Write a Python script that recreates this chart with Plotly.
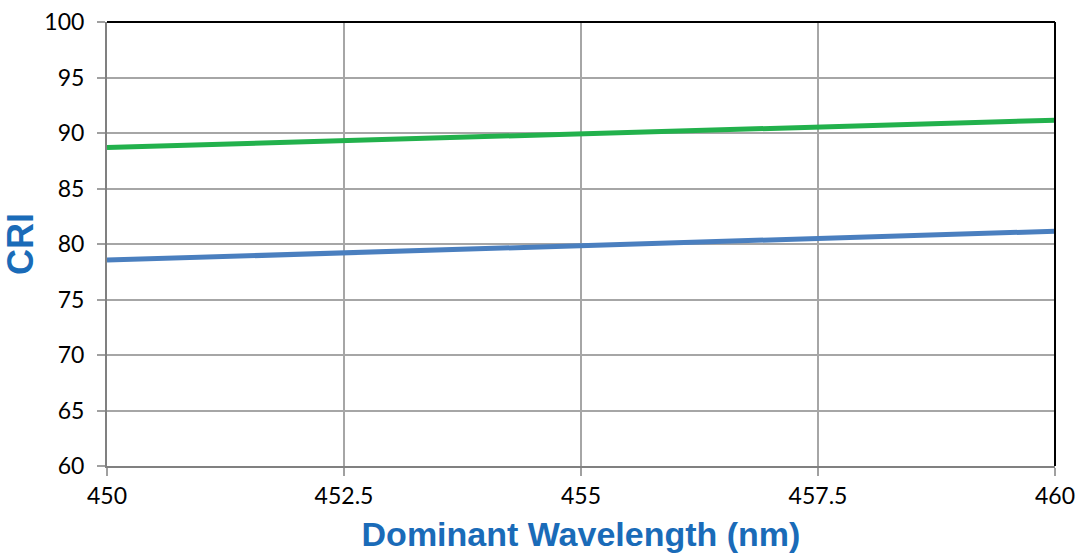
import plotly.graph_objects as go

wavelength = [450, 452.5, 455, 457.5, 460]
cri_green = [88.7, 89.3, 89.9, 90.55, 91.15]
cri_blue = [78.55, 79.2, 79.85, 80.5, 81.15]

x_ticks = [450, 452.5, 455, 457.5, 460]
x_tick_labels = ["450", "452.5", "455", "457.5", "460"]
y_ticks = [60, 65, 70, 75, 80, 85, 90, 95, 100]

fig = go.Figure()
fig.add_trace(go.Scatter(x=wavelength, y=cri_green, mode="lines",
                         line=dict(color="#22b14c", width=5), showlegend=False))
fig.add_trace(go.Scatter(x=wavelength, y=cri_blue, mode="lines",
                         line=dict(color="#4a7fbf", width=5), showlegend=False))

tickfont = dict(family="Lato, Liberation Sans, sans-serif", size=23, color="black")
xtitlefont = dict(family="Liberation Sans, Arial, sans-serif", size=34, color="#1a6bb8")
ytitlefont = dict(family="Liberation Sans, Arial, sans-serif", size=36, color="#1a6bb8")

fig.update_layout(
    width=1081, height=553,
    margin=dict(l=107, r=26, t=22, b=87),
    plot_bgcolor="white", paper_bgcolor="white",
    xaxis=dict(range=[450, 460], tickvals=x_ticks, ticktext=x_tick_labels,
               automargin=False,
               showgrid=True, gridcolor="#a6a6a6", gridwidth=1.5,
               showline=True, linecolor="#808080", linewidth=2,
               ticks="outside", ticklen=8, tickcolor="#a0a0a0", tickwidth=1.5,
               tickfont=tickfont, zeroline=False,
               title=dict(text="<b>Dominant Wavelength (nm)</b>", font=xtitlefont, standoff=15)),
    yaxis=dict(range=[60, 100], tickvals=y_ticks,
               automargin=False,
               showgrid=True, gridcolor="#a6a6a6", gridwidth=1.5,
               showline=True, linecolor="#808080", linewidth=2,
               ticks="outside", ticklen=8, tickcolor="#a0a0a0", tickwidth=1.5,
               tickfont=tickfont, zeroline=False, ticklabelstandoff=8,
               title=dict(text="<b>CRI</b>", font=ytitlefont, standoff=7)),
)
fig.add_shape(type="line", xref="paper", yref="paper", x0=0, x1=1, y0=1, y1=1,
              line=dict(color="black", width=2))
fig.add_shape(type="line", xref="paper", yref="paper", x0=1, x1=1, y0=0, y1=1,
              line=dict(color="black", width=2))

fig.write_html("out.html", config={"displayModeBar": False},
               post_script="document.body.style.margin='0';document.body.style.overflow='hidden';")
